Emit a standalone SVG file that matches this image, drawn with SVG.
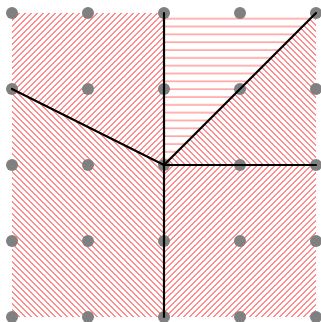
<svg xmlns="http://www.w3.org/2000/svg" width="321" height="322" viewBox="0 0 321 322">
<style>
.edge{stroke:#000;stroke-width:2.2;fill:none;stroke-linecap:round}
.dot{fill:#808080}
.hs{stroke:#ff8c8c;stroke-width:700;fill:none;stroke-dasharray:1 3.24;shape-rendering:crispEdges}
</style>
<defs>
<pattern id="pHoriz" patternUnits="userSpaceOnUse" width="8" height="7.83">
<rect x="0" y="2.4" width="8" height="1.3" fill="#ff8c8c"/>
</pattern>
<clipPath id="c1"><polygon points="12,13 164,13 164,165 12,89"/></clipPath>
<clipPath id="c3"><polygon points="316,13 316,165 164,165"/></clipPath>
<clipPath id="c4"><polygon points="12,89 164,165 164,317 12,317"/></clipPath>
<clipPath id="c5"><polygon points="164,165 316,165 316,317 164,317"/></clipPath>
</defs>
<g id="regions">
<g id="r1" clip-path="url(#c1)"><line class="hs" x1="-20" y1="-20" x2="350" y2="350"/></g>
<polygon id="r2" points="164,13 316,13 164,165" fill="url(#pHoriz)"/>
<g id="r3" clip-path="url(#c3)"><line class="hs" x1="-20" y1="350" x2="350" y2="-20"/></g>
<g id="r4" clip-path="url(#c4)"><line class="hs" x1="-20" y1="350" x2="350" y2="-20"/></g>
<g id="r5" clip-path="url(#c5)"><line class="hs" x1="-20" y1="-20" x2="350" y2="350"/></g>
</g>
<g id="dots">
<g id="n00"><circle class="dot" cx="12" cy="13" r="6"/></g>
<g id="n10"><circle class="dot" cx="88" cy="13" r="6"/></g>
<g id="n20"><circle class="dot" cx="164" cy="13" r="6"/></g>
<g id="n30"><circle class="dot" cx="240" cy="13" r="6"/></g>
<g id="n40"><circle class="dot" cx="316" cy="13" r="6"/></g>
<g id="n01"><circle class="dot" cx="12" cy="89" r="6"/></g>
<g id="n11"><circle class="dot" cx="88" cy="89" r="6"/></g>
<g id="n21"><circle class="dot" cx="164" cy="89" r="6"/></g>
<g id="n31"><circle class="dot" cx="240" cy="89" r="6"/></g>
<g id="n41"><circle class="dot" cx="316" cy="89" r="6"/></g>
<g id="n02"><circle class="dot" cx="12" cy="165" r="6"/></g>
<g id="n12"><circle class="dot" cx="88" cy="165" r="6"/></g>
<g id="n22"><circle class="dot" cx="164" cy="165" r="6"/></g>
<g id="n32"><circle class="dot" cx="240" cy="165" r="6"/></g>
<g id="n42"><circle class="dot" cx="316" cy="165" r="6"/></g>
<g id="n03"><circle class="dot" cx="12" cy="241" r="6"/></g>
<g id="n13"><circle class="dot" cx="88" cy="241" r="6"/></g>
<g id="n23"><circle class="dot" cx="164" cy="241" r="6"/></g>
<g id="n33"><circle class="dot" cx="240" cy="241" r="6"/></g>
<g id="n43"><circle class="dot" cx="316" cy="241" r="6"/></g>
<g id="n04"><circle class="dot" cx="12" cy="317" r="6"/></g>
<g id="n14"><circle class="dot" cx="88" cy="317" r="6"/></g>
<g id="n24"><circle class="dot" cx="164" cy="317" r="6"/></g>
<g id="n34"><circle class="dot" cx="240" cy="317" r="6"/></g>
<g id="n44"><circle class="dot" cx="316" cy="317" r="6"/></g>
</g>
<g id="connectors">
<line class="edge" x1="164" y1="165" x2="164" y2="13"/>
<line class="edge" x1="164" y1="165" x2="316" y2="13"/>
<line class="edge" x1="164" y1="165" x2="12" y2="89"/>
<line class="edge" x1="164" y1="165" x2="316" y2="165"/>
<line class="edge" x1="164" y1="165" x2="164" y2="317"/>
</g>
</svg>
